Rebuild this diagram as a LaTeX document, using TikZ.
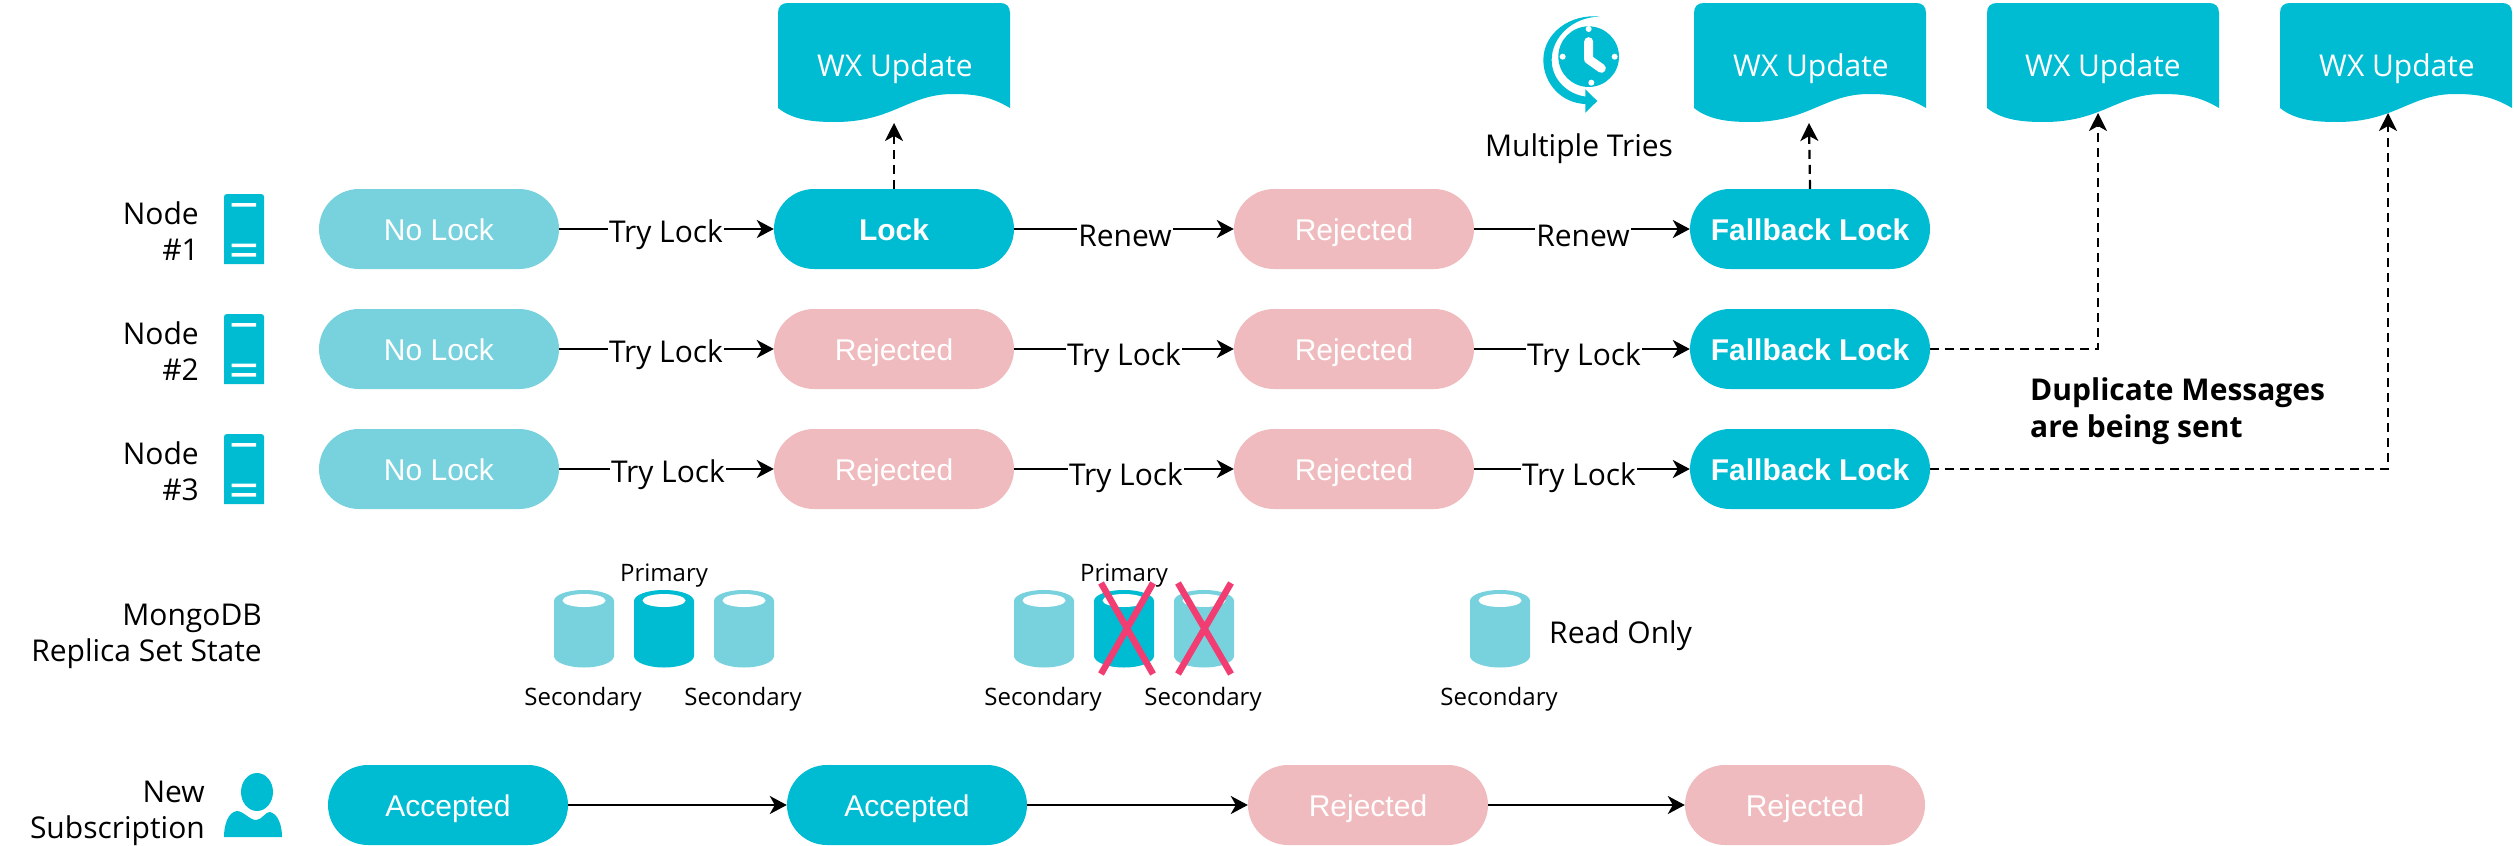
\documentclass[tikz,border=0pt]{standalone}
\usepackage{fontspec}
\setmainfont{Open Sans}
\newfontfamily\pillfont{Liberation Sans}
\usetikzlibrary{arrows.meta}
\definecolor{teal}{HTML}{00BCD3}
\definecolor{lteal}{HTML}{78D2DE}
\definecolor{pinkr}{HTML}{F0BBBE}
\definecolor{crossc}{HTML}{F23D72}
\tikzset{
  pill/.style={rectangle,rounded corners=40pt,minimum width=240pt,minimum height=80pt,inner sep=0pt,text height=22pt,text depth=0pt,text=white,font=\pillfont\fontsize{30}{36}\selectfont},
  pillnone/.style={pill,fill=lteal},
  pillok/.style={pill,fill=teal},
  pilllock/.style={pill,fill=teal,font=\pillfont\bfseries\fontsize{30}{36}\selectfont},
  pillrej/.style={pill,fill=pinkr},
  flow/.style={line width=2.5pt,-{Stealth[length=17pt,width=18pt,inset=5pt]}},
  dashflow/.style={line width=2.2pt,dash pattern=on 9pt off 6pt,-{Stealth[length=18pt,width=18pt,inset=5pt]}},
  lab/.style={inner sep=1pt,fill=white,font=\fontsize{30}{36}\selectfont},
  txt/.style={inner sep=0pt,font=\fontsize{30}{36}\selectfont,align=right},
  small/.style={inner sep=0pt,font=\fontsize{24}{28}\selectfont},
  doctext/.style={inner sep=0pt,text=white,font=\fontsize{30}{36}\selectfont},
  crossline/.style={line width=6.5pt,crossc},
}
\newcommand{\docshape}[1]{%
  \fill[teal,shift={(#1,0)}] (0,13) .. controls (0,6) and (4,3) .. (10,3) -- (222,3) .. controls (228,3) and (232,6) .. (232,13) -- (232,108)
  .. controls (212,96) and (196,94) .. (175,94) .. controls (130,94) and (115,122) .. (57,122) .. controls (35,122) and (15,120) .. (0,108) -- cycle;}
\newcommand{\servericon}[1]{%
  \begin{scope}[shift={(224,#1)}]
  \fill[teal] (0,3) .. controls (0,1) and (1,0) .. (3,0) -- (37,0) .. controls (39,0) and (40,1) .. (40,3) -- (40,70) -- (0,70) -- cycle;
  \fill[white] (7.5,9) rectangle (32,12.5) (7.5,49.5) rectangle (32,53) (7.5,59) rectangle (32,62.5);
  \end{scope}}
\newcommand{\cyl}[2]{%
  \fill[#2,shift={(#1,0)}] (0,601) .. controls (0,595) and (13,590) .. (30,590) .. controls (47,590) and (60,595) .. (60,601) -- (60,656) .. controls (60,662) and (47,667.5) .. (30,667.5) .. controls (13,667.5) and (0,662) .. (0,656) -- cycle;
  \fill[white] (#1+30,600.5) ellipse[x radius=21.5,y radius=6.5];}
\begin{document}
\begin{tikzpicture}[x=1pt,y=-1pt]
\useasboundingbox (0,0) rectangle (2514,846);
% docs
\docshape{778}\docshape{1694}\docshape{1987}\docshape{2280}
\node[doctext] (d1) at (895,69) {WX Update};
\node[doctext] (d2) at (1811,69) {WX Update};
\node[doctext] (d3) at (2103,69) {WX Update};
\node[doctext] (d4) at (2397,69) {WX Update};
\coordinate (t1) at (894,123);
\coordinate (t2) at (1809,123);
\coordinate (t3) at (2098,113);
\coordinate (t4) at (2388,113);
% clock
\begin{scope}[shift={(1480,0)},x=0.3333pt,y=-0.3333pt]
  \fill[teal] (360,50) .. controls (270,40) and (190,100) .. (190,180) .. controls (190,250) and (245,312) .. (320,312)
   -- (320,290) .. controls (265,285) and (215,240) .. (215,180) .. controls (215,110) and (280,50) .. (360,50) -- cycle;
  \fill[teal] (316,268) -- (352,303) -- (316,338) -- cycle;
  \fill[teal] (326,170) circle[radius=91];
  \draw[white,line width=9pt,line cap=round,line join=round] (326,125) -- (326,178) -- (364,205);
  \fill[white] (326,87) circle[radius=9] (248,170) circle[radius=9] (404,170) circle[radius=9] (334,248) circle[radius=9];
\end{scope}
\node[inner sep=0pt,font=\fontsize{30}{36}\selectfont] (mt) at (1579,149) {Multiple Tries};
% row labels
\node[txt,anchor=east] (l1) at (199,231) {Node\\\#1\hspace{3pt}};
\node[txt,anchor=east] (l2) at (199,351) {Node\\\#2};
\node[txt,anchor=east] (l3) at (199,471) {Node\\\#3};
\servericon{194}\servericon{314}\servericon{434}
% row 1
\node[pillnone] (a1) at (439,229) {No Lock};
\node[pilllock] (a2) at (894,229) {Lock};
\node[pillrej] (a3) at (1354,229) {Rejected};
\node[pilllock] (a4) at (1810,229) {Fallback Lock};
% row 2
\node[pillnone] (b1) at (439,349) {No Lock};
\node[pillrej] (b2) at (894,349) {Rejected};
\node[pillrej] (b3) at (1354,349) {Rejected};
\node[pilllock] (b4) at (1810,349) {Fallback Lock};
% row 3
\node[pillnone] (c1) at (439,469) {No Lock};
\node[pillrej] (c2) at (894,469) {Rejected};
\node[pillrej] (c3) at (1354,469) {Rejected};
\node[pilllock] (c4) at (1810,469) {Fallback Lock};
% flows
\draw[flow] (a1) -- (a2);
\node[lab] (la1) at (666,235) {Try Lock};
\draw[flow] (a2) -- (a3);
\node[lab] (la2) at (1125,236) {Renew};
\draw[flow] (a3) -- (a4);
\node[lab] (la3) at (1583,236) {Renew};
\draw[flow] (b1) -- (b2);
\node[lab] (lb1) at (666,355) {Try Lock};
\draw[flow] (b2) -- (b3);
\node[lab] (lb2) at (1124,358) {Try Lock};
\draw[flow] (b3) -- (b4);
\node[lab] (lb3) at (1584,358) {Try Lock};
\draw[flow] (c1) -- (c2);
\node[lab] (lc1) at (668,475) {Try Lock};
\draw[flow] (c2) -- (c3);
\node[lab] (lc2) at (1126,478) {Try Lock};
\draw[flow] (c3) -- (c4);
\node[lab] (lc3) at (1579,478) {Try Lock};
% dashed
\draw[dashflow] (a2.north) -- (t1);
\draw[dashflow] (a4.north) -- (t2);
\draw[dashflow] (b4.east) -| (t3);
\draw[dashflow] (c4.east) -| (t4);
\node[inner sep=0pt,anchor=north west,align=left,font=\bfseries\fontsize{30}{37}\selectfont] (dup) at (2030,378) {Duplicate Messages\\are being sent};
% mongodb
\node[txt,anchor=east] (mg) at (262,636) {MongoDB\\Replica Set State};
\cyl{554}{lteal}\cyl{634}{teal}\cyl{714}{lteal}
\cyl{1014}{lteal}\cyl{1094}{teal}\cyl{1174}{lteal}
\cyl{1470}{lteal}
\node[small] (p1) at (664,576) {Primary};
\node[small] (p2) at (1124,576) {Primary};
\node[small] (s1) at (583,699) {Secondary};
\node[small] (s2) at (743,699) {Secondary};
\node[small] (s3) at (1043,699) {Secondary};
\node[small] (s4) at (1203,699) {Secondary};
\node[small] (s5) at (1499,699) {Secondary};
\node[txt,anchor=west] (ro) at (1549,636) {Read Only};
\draw[crossline] (1101,583) -- (1153,674) (1153,583) -- (1101,674);
\draw[crossline] (1178,583) -- (1231,674) (1231,583) -- (1178,674);
% subscription
\node[txt,anchor=east] (ns) at (205,813) {New\\Subscription};
\fill[teal] (257,792) ellipse[x radius=16,y radius=19];
\fill[teal] (224,837) .. controls (224,825) and (228,812) .. (237,811) .. controls (243,811) and (250,820) .. (256,820) .. controls (262,820) and (266,811) .. (270,812) .. controls (278,814) and (282,825) .. (282,837) -- cycle;
\node[pillok] (e1) at (448,805) {Accepted};
\node[pillok] (e2) at (907,805) {Accepted};
\node[pillrej] (e3) at (1368,805) {Rejected};
\node[pillrej] (e4) at (1805,805) {Rejected};
\draw[flow] (e1) -- (e2);
\draw[flow] (e2) -- (e3);
\draw[flow] (e3) -- (e4);
\end{tikzpicture}
\end{document}
